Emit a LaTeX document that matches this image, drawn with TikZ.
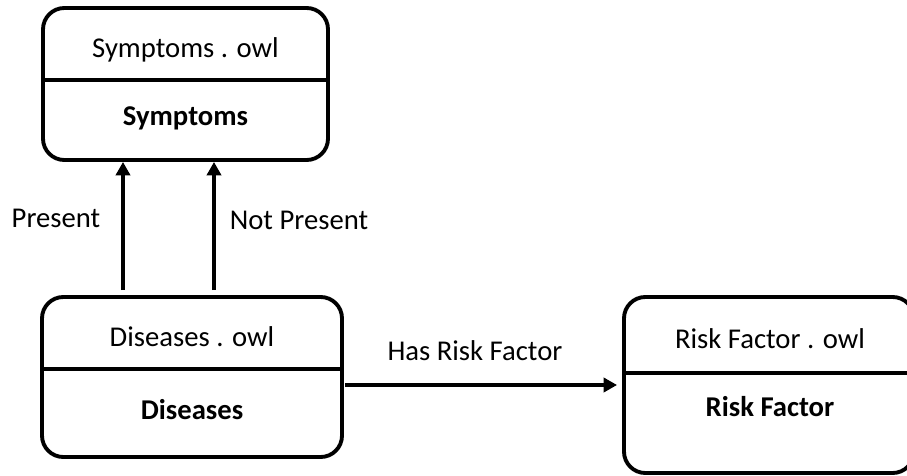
\documentclass[tikz,border=0pt]{standalone}
\usepackage{fontspec}
\setmainfont{Carlito}
\usetikzlibrary{arrows.meta}
\begin{document}
\begin{tikzpicture}[x=0.75pt,y=-0.75pt,
  box/.style={draw, line width=2.9pt, rounded corners=16pt, inner sep=0pt},
  divider/.style={line width=2.9pt},
  arr/.style={line width=2.9pt, -{Triangle[length=10pt,width=10.5pt]}},
  lbl/.style={font=\fontsize{21.5}{24}\selectfont, inner sep=0pt},
  ttl/.style={font=\fontsize{21.5}{24}\selectfont\bfseries, inner sep=0pt}]
\useasboundingbox (0,0) rectangle (907,475);
% boxes
\node[box, minimum width=213.75pt, minimum height=114pt] (sym) at (185.5,84) {};
\node[box, minimum width=225pt, minimum height=120pt] (dis) at (192,377) {};
\node[box, minimum width=217.5pt, minimum height=132pt] (risk) at (769,385) {};
% dividers
\coordinate (symdiv) at (0,80);
\coordinate (disdiv) at (0,369);
\coordinate (riskdiv) at (0,373);
\draw[divider] (sym.west |- symdiv) -- (sym.east |- symdiv);
\draw[divider] (dis.west |- disdiv) -- (dis.east |- disdiv);
\draw[divider] (risk.west |- riskdiv) -- (risk.east |- riskdiv);
% texts
\node[lbl] (symfile) at (185.5,50) {Symptoms . owl};
\node[ttl] (symname) at (185.5,118) {Symptoms};
\node[lbl] (disfile) at (192,337) {Diseases . owl};
\node[ttl] (disname) at (192,410) {Diseases};
\node[lbl] (riskfile) at (770,339) {Risk Factor . owl};
\node[ttl] (riskname) at (770,407) {Risk Factor};
% connectors
\coordinate (px) at (123,0);
\coordinate (nx) at (214,0);
\coordinate (ry) at (0,385);
\draw[arr] ([yshift=3.75pt]dis.north -| px) -- (sym.south -| px);
\draw[arr] ([yshift=3.75pt]dis.north -| nx) -- (sym.south -| nx);
\draw[arr] ([xshift=1pt]dis.east |- ry) -- ([xshift=-3.75pt]risk.west |- ry);
% labels
\node[lbl] (lpresent) at (56,218) {Present};
\node[lbl] (lnot) at (299,220) {Not Present};
\node[lbl] (lhas) at (475,351) {Has Risk Factor};
\end{tikzpicture}
\end{document}
